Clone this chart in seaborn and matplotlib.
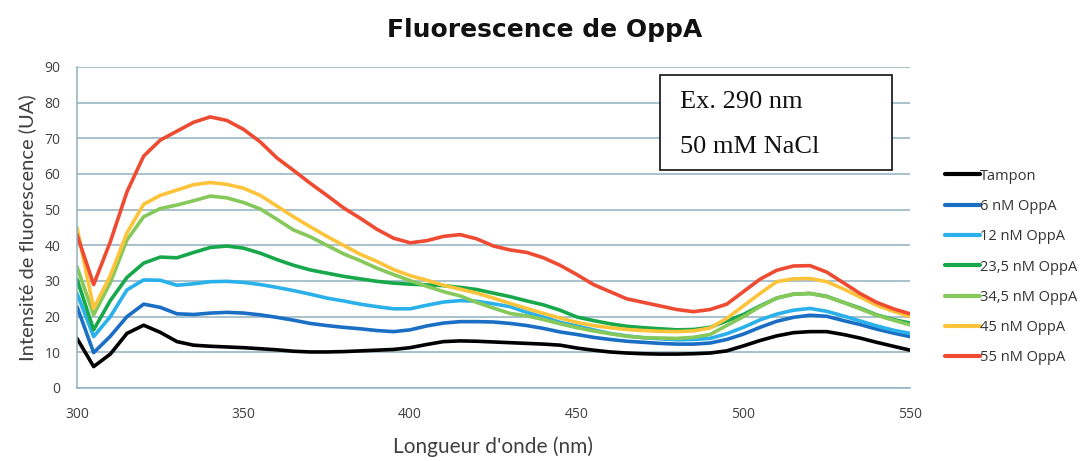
import numpy as np
import pandas as pd
import matplotlib
matplotlib.use("Agg")
import matplotlib.pyplot as plt
from matplotlib.patches import Rectangle
from matplotlib.ticker import MultipleLocator
import seaborn as sns

# Emission wavelengths (nm), 5 nm step
wavelength = list(range(300, 551, 5))

tampon = [13.9, 6.0, 9.5, 15.3, 17.6, 15.6, 13.0, 12.0, 11.7, 11.5, 11.3, 11.0, 10.7, 10.3,
          10.1, 10.1, 10.2, 10.4, 10.6, 10.8, 11.3, 12.2, 13.0, 13.2, 13.1, 12.9, 12.7, 12.5,
          12.3, 12.0, 11.2, 10.6, 10.1, 9.8, 9.6, 9.5, 9.5, 9.6, 9.8, 10.4, 11.8, 13.3, 14.6,
          15.5, 15.8, 15.8, 15.0, 14.0, 12.8, 11.7, 10.6]
oppa_6 = [22.8, 9.9, 14.5, 20.0, 23.5, 22.6, 20.8, 20.6, 21.0, 21.2, 21.0, 20.5, 19.8, 19.0,
          18.1, 17.5, 17.0, 16.6, 16.1, 15.8, 16.3, 17.4, 18.2, 18.6, 18.6, 18.5, 18.1, 17.5,
          16.7, 15.7, 15.0, 14.2, 13.6, 13.1, 12.8, 12.5, 12.3, 12.3, 12.6, 13.6, 15.1, 17.0,
          18.7, 19.8, 20.4, 20.1, 18.9, 17.8, 16.5, 15.4, 14.4]
oppa_12 = [26.5, 14.4, 20.0, 27.5, 30.3, 30.2, 28.8, 29.2, 29.8, 29.9, 29.6, 29.0, 28.2, 27.3,
           26.3, 25.2, 24.4, 23.5, 22.8, 22.2, 22.2, 23.2, 24.1, 24.5, 24.3, 23.6, 22.8, 21.2,
           19.9, 18.4, 17.4, 16.3, 15.3, 14.6, 14.1, 13.8, 13.5, 13.6, 13.9, 15.2, 17.0, 19.1,
           20.7, 21.8, 22.3, 21.5, 20.2, 18.8, 17.4, 16.2, 15.3]
oppa_23_5 = [30.5, 16.3, 24.5, 31.0, 35.0, 36.7, 36.5, 38.0, 39.4, 39.8, 39.2, 37.8, 36.0, 34.4,
             33.1, 32.2, 31.3, 30.6, 29.9, 29.4, 29.1, 28.9, 28.7, 28.2, 27.6, 26.6, 25.6, 24.4,
             23.3, 21.8, 19.9, 18.9, 18.0, 17.3, 16.9, 16.6, 16.3, 16.4, 17.0, 18.8, 20.6, 23.0,
             25.2, 26.3, 26.5, 25.7, 24.0, 22.4, 20.5, 19.2, 18.2]
oppa_34_5 = [34.0, 20.5, 29.5, 41.5, 48.0, 50.3, 51.3, 52.5, 53.8, 53.3, 52.0, 50.2, 47.3, 44.3,
             42.4, 40.0, 37.6, 35.7, 33.6, 31.8, 30.1, 28.5, 27.0, 25.8, 24.0, 22.4, 20.9, 20.2,
             19.2, 18.0, 16.9, 16.0, 15.2, 14.5, 14.1, 14.0, 13.9, 14.2, 15.0, 17.5, 20.0, 22.8,
             25.2, 26.3, 26.5, 25.6, 24.0, 22.2, 20.4, 19.0, 17.7]
oppa_45 = [45.0, 22.3, 31.5, 43.5, 51.5, 54.0, 55.5, 57.0, 57.6, 57.1, 56.0, 54.0, 51.0, 48.0,
           45.2, 42.5, 40.0, 37.5, 35.5, 33.2, 31.5, 30.2, 28.8, 27.7, 26.6, 25.2, 23.7, 22.3,
           20.9, 19.6, 18.4, 17.5, 16.9, 16.4, 16.1, 15.9, 15.8, 16.0, 16.8, 19.5, 23.0, 26.5,
           29.8, 30.6, 30.7, 29.8, 27.8, 25.5, 23.2, 21.5, 20.0]
oppa_55 = [43.0, 29.0, 41.0, 55.0, 65.0, 69.5, 72.0, 74.5, 76.0, 75.0, 72.5, 69.0, 64.5, 61.0,
           57.4, 54.0, 50.5, 47.6, 44.5, 42.0, 40.7, 41.3, 42.5, 43.0, 41.8, 39.8, 38.7, 38.0,
           36.5, 34.4, 31.8, 29.0, 27.0, 25.0, 24.0, 23.0, 22.0, 21.4, 22.0, 23.5, 27.0, 30.5,
           33.0, 34.2, 34.3, 32.5, 29.5, 26.5, 24.0, 22.2, 20.8]

series_names = ["Tampon", "6 nM OppA", "12 nM OppA", "23,5 nM OppA",
                "34,5 nM OppA", "45 nM OppA", "55 nM OppA"]
series_values = [tampon, oppa_6, oppa_12, oppa_23_5, oppa_34_5, oppa_45, oppa_55]
series_colors = ["#000000", "#1a6fc4", "#2ab0ea", "#16a84a", "#86c95a", "#fdc33a", "#ee4b32"]

df = pd.DataFrame({
    "wavelength": np.tile(wavelength, len(series_names)),
    "intensity": np.concatenate(series_values),
    "sample": np.repeat(series_names, len(wavelength)),
})

sns.set_style("white")
plt.rcParams["font.family"] = ["Lato", "DejaVu Sans"]

fig = plt.figure(figsize=(10.89, 4.61), dpi=100)
ax = fig.add_axes([0.0707, 0.1584, 0.7649, 0.6963])

sns.lineplot(data=df, x="wavelength", y="intensity", hue="sample",
             hue_order=series_names, palette=series_colors,
             linewidth=2.6, ax=ax, legend=True, sort=False)

grid_color = "#8fb0c0"
ax.set_xlim(300, 550)
ax.set_ylim(0, 90)
ax.xaxis.set_major_locator(MultipleLocator(50))
ax.xaxis.set_minor_locator(MultipleLocator(10))
ax.yaxis.set_major_locator(MultipleLocator(10))
ax.grid(axis="y", color=grid_color, linewidth=1.1)
ax.grid(axis="x", visible=False)
ax.set_axisbelow(True)
for side in ("top", "right"):
    ax.spines[side].set_visible(False)
for side in ("left", "bottom"):
    ax.spines[side].set_color(grid_color)
    ax.spines[side].set_linewidth(1.1)

ax.tick_params(axis="x", which="major", direction="inout", length=8, width=1,
               color=grid_color, labelsize=10, labelcolor="#404040", pad=10)
ax.tick_params(axis="x", which="minor", direction="in", length=4, width=1,
               color=grid_color)
ax.tick_params(axis="y", which="major", length=0, labelsize=10,
               labelcolor="#404040", pad=12)
for lbl in ax.get_xticklabels() + ax.get_yticklabels():
    lbl.set_family(["Open Sans", "DejaVu Sans"])

ax.set_xlabel("Longueur d'onde (nm)", fontsize=15, color="#404040", labelpad=10)
ax.set_ylabel("Intensité de fluorescence (UA)", fontsize=14.5, color="#404040", labelpad=6)

fig.suptitle("Fluorescence de OppA", x=0.5, y=0.962, fontsize=18,
             fontweight="bold", family="DejaVu Sans", color="#111111")

# Annotation box with excitation conditions
ax.add_patch(Rectangle((0.700, 0.679), 0.278, 0.296, transform=ax.transAxes,
                       facecolor="white", edgecolor="#222222", linewidth=1.3, zorder=5))
ax.text(0.724, 0.891, "Ex. 290 nm", transform=ax.transAxes, fontsize=19,
        family="Liberation Serif", va="center", ha="left", color="#111111", zorder=6)
ax.text(0.724, 0.751, "50 mM NaCl", transform=ax.transAxes, fontsize=19,
        family="Liberation Serif", va="center", ha="left", color="#111111", zorder=6)

handles, labels = ax.get_legend_handles_labels()
ax.get_legend().remove()
for h in handles:
    h.set_linewidth(3)
fig.legend(handles, labels, loc="upper left", bbox_to_anchor=(0.862, 0.647),
           frameon=False, prop={"family": "Open Sans", "size": 10.5},
           handlelength=2.4, handletextpad=0.0,
           labelspacing=1.05, labelcolor="#333333", borderaxespad=0)

fig.savefig("out.png", dpi=100)
